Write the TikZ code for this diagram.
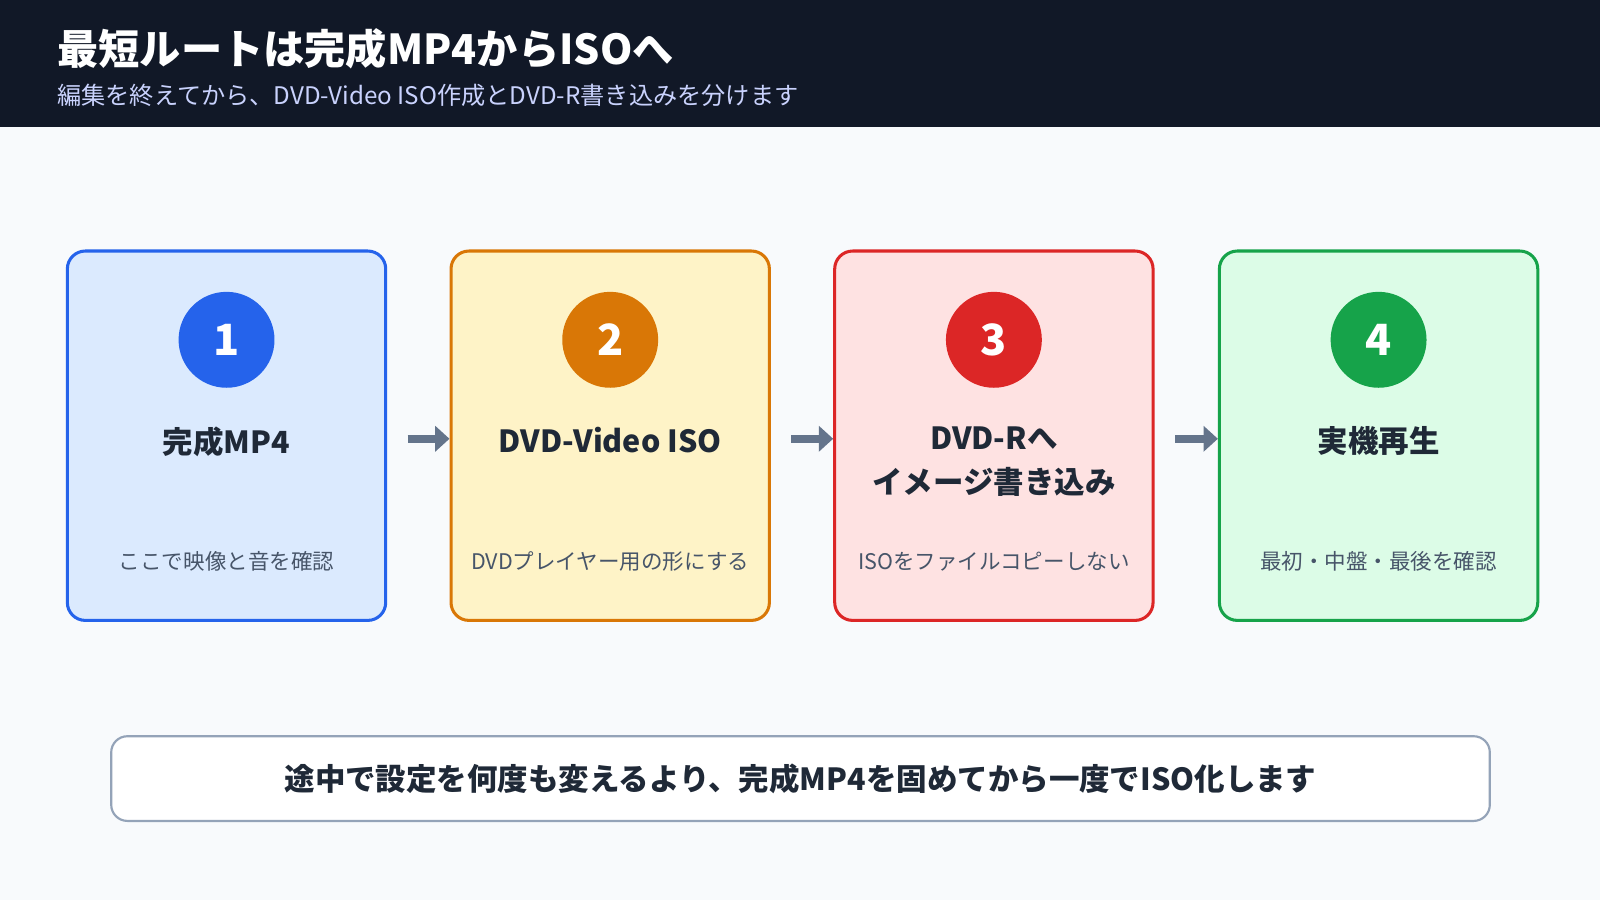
\documentclass[tikz,border=0pt]{standalone}
\usepackage{fontspec}
\setmainfont{Noto Sans CJK JP}
\usetikzlibrary{arrows.meta}
\definecolor{hdr}{HTML}{111827}
\definecolor{bg}{HTML}{F8FAFC}
\definecolor{sub}{HTML}{A5B4FC}
\definecolor{txt}{HTML}{1F2937}
\definecolor{gtxt}{HTML}{475569}
\definecolor{arr}{HTML}{64748B}
\definecolor{bB}{HTML}{2563EB}\definecolor{fB}{HTML}{DBEAFE}
\definecolor{bO}{HTML}{D97706}\definecolor{fO}{HTML}{FEF3C7}
\definecolor{bR}{HTML}{DC2626}\definecolor{fR}{HTML}{FEE2E2}
\definecolor{bG}{HTML}{16A34A}\definecolor{fG}{HTML}{DCFCE7}
\definecolor{bot}{HTML}{94A3B8}
\newcommand{\fs}[2]{\fontsize{#1}{#2}\selectfont}
\begin{document}
\begin{tikzpicture}[x=0.02cm,y=-0.02cm,
 card/.style={draw=#1,line width=1.7pt,rounded corners=10pt,minimum width=312*0.02cm,minimum height=362*0.02cm},
 num/.style={circle,fill=#1,minimum size=94*0.02cm,text=white,font=\fs{24pt}{28pt}\bfseries,inner sep=0},
 ttl/.style={text=txt,font=\fs{17pt}{24.5pt}\bfseries,align=center},
 st/.style={text=gtxt,font=\fs{12pt}{14pt}},
 ar/.style={draw=arr,line width=4.5pt,-{Triangle[length=8pt,width=14pt]}}]
\useasboundingbox (0,0) rectangle (1568,882);
\fill[bg] (0,0) rectangle (1568,882);
\fill[hdr] (0,0) rectangle (1568,124);
\node[anchor=west,text=white,font=\fs{23pt}{27pt}\bfseries] (title) at (50,48) {最短ルートは完成MP4からISOへ};
\node[anchor=west,text=sub!60!white,font=\fs{13.5pt}{16pt}] (subt) at (50,93) {編集を終えてから、DVD-Video ISO作成とDVD-R書き込みを分けます};
\foreach \i/\x/\c/\n/\t/\s in {1/222/B/1/完成MP4/ここで映像と音を確認, 2/598/O/2/DVD-Video ISO/DVDプレイヤー用の形にする, 3/974/R/3/{DVD-Rへ\\イメージ書き込み}/ISOをファイルコピーしない, 4/1351/G/4/実機再生/最初・中盤・最後を確認}{
 \node[card=b\c,fill=f\c] (card\i) at (\x,427) {};
 \node[num=b\c] (n\i) at (\x,333) {\n};
 \node[ttl,anchor=north] (t\i) at (\x,412) {\t};
 \node[st] (s\i) at (\x,550) {\s};
}
\draw[ar] ([xshift=20*0.02cm]card1.east |- 0,430) -- (card2.west |- 0,430);
\draw[ar] ([xshift=20*0.02cm]card2.east |- 0,430) -- (card3.west |- 0,430);
\draw[ar] ([xshift=20*0.02cm]card3.east |- 0,430) -- (card4.west |- 0,430);
\node[draw=bot,fill=white,line width=1.2pt,rounded corners=9pt,minimum width=1351*0.02cm,minimum height=83*0.02cm,text=txt,font=\fs{17pt}{20pt}\bfseries] (note) at (784.5,763) {途中で設定を何度も変えるより、完成MP4を固めてから一度でISO化します};
\end{tikzpicture}
\end{document}
